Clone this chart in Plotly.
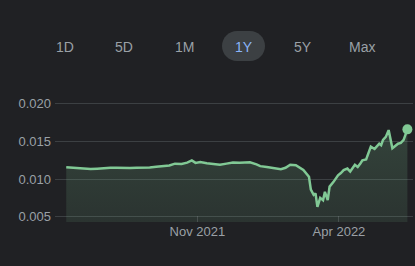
import plotly.graph_objects as go

dates = [
    "2021-06-14", "2021-06-20", "2021-06-27", "2021-07-04", "2021-07-10", "2021-07-17",
    "2021-07-24", "2021-07-31", "2021-08-07", "2021-08-14", "2021-08-21", "2021-08-28",
    "2021-09-04", "2021-09-11", "2021-09-18", "2021-09-25", "2021-10-02", "2021-10-08",
    "2021-10-15", "2021-10-21", "2021-10-26", "2021-10-30", "2021-11-04", "2021-11-11",
    "2021-11-18", "2021-11-25", "2021-12-02", "2021-12-09", "2021-12-16", "2021-12-27",
    "2022-01-03", "2022-01-07", "2022-01-14", "2022-01-21", "2022-01-29", "2022-02-03",
    "2022-02-08", "2022-02-14", "2022-02-19", "2022-02-22", "2022-02-28", "2022-03-02",
    "2022-03-05", "2022-03-07", "2022-03-09", "2022-03-12", "2022-03-15", "2022-03-17",
    "2022-03-20", "2022-03-22", "2022-03-26", "2022-03-31", "2022-04-03", "2022-04-06",
    "2022-04-10", "2022-04-13", "2022-04-18", "2022-04-21", "2022-04-24", "2022-04-26",
    "2022-04-30", "2022-05-03", "2022-05-05", "2022-05-09", "2022-05-14", "2022-05-16",
    "2022-05-18", "2022-05-21", "2022-05-24", "2022-05-28", "2022-05-31", "2022-06-03",
    "2022-06-06", "2022-06-09", "2022-06-13",
]
values = [
    0.01156, 0.01150, 0.01148, 0.01138, 0.01133, 0.01138,
    0.01148, 0.01152, 0.01150, 0.01146, 0.01148, 0.01150,
    0.01150, 0.01155, 0.01162, 0.01170, 0.01180, 0.01205,
    0.01200, 0.01218, 0.01248, 0.01215, 0.01225, 0.01210,
    0.01195, 0.01190, 0.01205, 0.01220, 0.01218, 0.01222,
    0.01195, 0.01172, 0.01160, 0.01148, 0.01132, 0.01150,
    0.01190, 0.01185, 0.01140, 0.01120, 0.01030, 0.00860,
    0.00790, 0.00810, 0.00630, 0.00750, 0.00720, 0.00830,
    0.00720, 0.00900, 0.00960, 0.01050, 0.01080, 0.01120,
    0.01140, 0.01100, 0.01190, 0.01160, 0.01210, 0.01250,
    0.01260, 0.01360, 0.01430, 0.01400, 0.01470, 0.01450,
    0.01520, 0.01560, 0.01650, 0.01410, 0.01440, 0.01470,
    0.01480, 0.01520, 0.01660,
]
tick_vals = ["2021-11-01", "2022-04-01"]
tick_text = ["Nov 2021", "Apr 2022"]
y_ticks = [0.005, 0.010, 0.015, 0.020]
y_labels = ["0.005", "0.010", "0.015", "0.020"]
buttons = ["1D", "5D", "1M", "1Y", "5Y", "Max"]
button_x = [65, 124, 184, 243.5, 303, 362]
selected = "1Y"

BG = "#202124"
LINE = "#81c995"
GRID = "#3c4043"
TXT = "#9aa0a6"
FONT = "Arial, Liberation Sans, sans-serif"

fig = go.Figure()
fig.add_trace(go.Scatter(
    x=dates, y=values, mode="lines",
    line=dict(color=LINE, width=2.5),
    fill="tozeroy",
    fillgradient=dict(type="vertical",
                      colorscale=[[0, "rgba(129,201,149,0.08)"], [1, "rgba(129,201,149,0.2)"]]),
    hoverinfo="skip",
))
fig.add_trace(go.Scatter(
    x=[dates[-1]], y=[values[-1]], mode="markers",
    marker=dict(color=LINE, size=10),
    hoverinfo="skip",
))

W, H = 415, 266
L, R, T, B = 55, 2, 100, 44
PW, PH = W - L - R, H - T - B


def px_x(x):
    return (x - L) / PW


def px_y(y):
    return (H - B - y) / PH


pill = ("M -6.5,-15 L 6.5,-15 C 14.78,-15 21.5,-8.28 21.5,0 "
        "C 21.5,8.28 14.78,15 6.5,15 L -6.5,15 C -14.78,15 -21.5,8.28 -21.5,0 "
        "C -21.5,-8.28 -14.78,-15 -6.5,-15 Z")
for b, bx in zip(buttons, button_x):
    if b == selected:
        fig.add_shape(type="path", xref="paper", yref="paper",
                      xsizemode="pixel", ysizemode="pixel",
                      xanchor=px_x(bx), yanchor=px_y(46), path=pill,
                      fillcolor="#3c4043", line=dict(width=0), layer="above")
    fig.add_annotation(x=px_x(bx), y=px_y(47),
                       xref="paper", yref="paper", text=b, showarrow=False,
                       xanchor="center", yanchor="middle",
                       font=dict(size=14, color="#8ab4f8" if b == selected else TXT,
                                 family=FONT))

fig.update_layout(
    width=W, height=H,
    margin=dict(l=L, r=R, t=T, b=B),
    paper_bgcolor=BG, plot_bgcolor=BG,
    showlegend=False,
    font=dict(family=FONT, size=13, color=TXT),
    xaxis=dict(range=["2021-06-02", "2022-06-19"], tickvals=tick_vals, ticktext=tick_text,
               showgrid=False, zeroline=False, showline=False,
               ticks="inside", ticklen=6, tickcolor="rgba(154,160,166,0.25)",
               tickfont=dict(size=13, color=TXT, family=FONT)),
    yaxis=dict(range=[0.0043, 0.0205], tickvals=y_ticks, ticktext=y_labels,
               showgrid=True, gridcolor=GRID, gridwidth=1, zeroline=False,
               tickfont=dict(size=13, color=TXT, family=FONT), ticklabelstandoff=3),
)
fig.write_html("out.html")
